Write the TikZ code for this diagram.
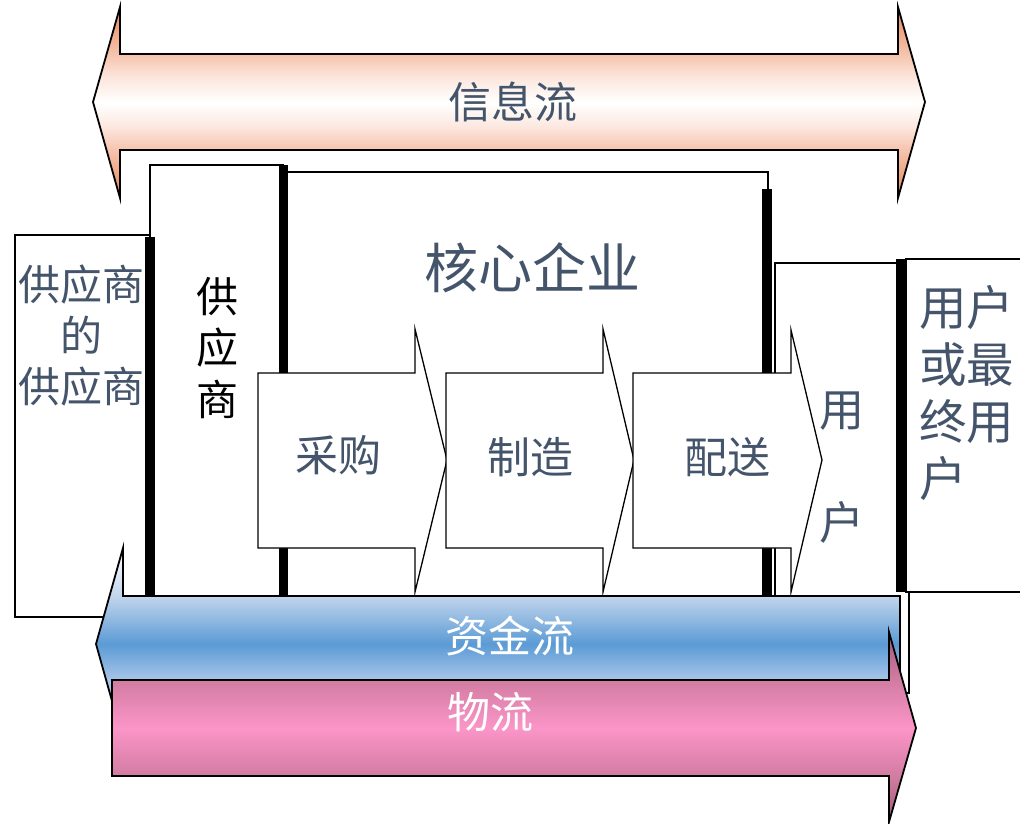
\documentclass[tikz,border=0pt]{standalone}
\usepackage{fontspec}
\newfontfamily\cjk{Noto Sans CJK SC}
\definecolor{txt}{HTML}{44546A}
\definecolor{o1}{HTML}{E8865C}
\definecolor{o2}{HTML}{F6C4AE}
\definecolor{o3}{HTML}{FCE9E1}
\definecolor{b0}{HTML}{E0EAF6}
\definecolor{b1}{HTML}{A8C5E8}
\definecolor{b2}{HTML}{5B9BD5}
\definecolor{b3}{HTML}{C2D5EC}
\definecolor{p1}{HTML}{A05A7A}
\definecolor{p2}{HTML}{D27CA2}
\definecolor{p3}{HTML}{FB95C8}
\pgfdeclareverticalshading{orangeflow}{100bp}{color(0bp)=(o1); color(25bp)=(o1); color(37.6bp)=(o2); color(44bp)=(o3); color(50bp)=(white); color(56bp)=(o3); color(62.6bp)=(o2); color(75bp)=(o1); color(100bp)=(o1)}
\pgfdeclareverticalshading{blueflow}{100bp}{color(0bp)=(b0); color(25bp)=(b0); color(40.6bp)=(b1); color(50bp)=(b2); color(62.5bp)=(b3); color(75bp)=(white); color(100bp)=(white)}
\pgfdeclareverticalshading{pinkflow}{100bp}{color(0bp)=(p1); color(25bp)=(p1); color(37.1bp)=(p2); color(49.7bp)=(p3); color(62.4bp)=(p2); color(75bp)=(p1); color(100bp)=(p1)}
\begin{document}
\begin{tikzpicture}[x=1pt,y=-1pt,
  box/.style={draw=black, line width=1.3pt, fill=white},
  chev/.style={draw=black, line width=1.3pt, fill=white, line join=miter},
  flowarrow/.style={draw=black, line width=1.8pt, line join=miter},
  lbl/.style={inner sep=0pt, text=txt, align=center},
]
\useasboundingbox (0,0) rectangle (1020,823);

% information flow (double arrow)
\path[flowarrow, shading=orangeflow]
  (93,102) -- (120,7) -- (120,54) -- (898,54) -- (898,7) -- (925,102)
  -- (898,198) -- (898,150) -- (120,150) -- (120,198) -- cycle;

% boxes
\draw[box] (15,235) rectangle (150,617);
\draw[box] (150,165) rectangle (283,597);
\draw[line width=1.3pt] (288,172) -- (768,172) -- (768,190);
\draw[box] (775,263) rectangle (909,693);
\draw[box] (906,259) rectangle (1025,592);

% thick bars
\fill (145,237) rectangle (155,597);
\fill (279,165) rectangle (288,597);
\fill (762,189) rectangle (772,597);
\fill (896,259) rectangle (906,592);

% process chevrons
\path[chev] (258,373) -- (415,373) -- (415,329) -- (447,460) -- (415,592) -- (415,548) -- (258,548) -- cycle;
\path[chev] (446,373) -- (603,373) -- (603,329) -- (634,460) -- (603,592) -- (603,548) -- (446,548) -- cycle;
\path[chev] (633,373) -- (791,373) -- (791,330) -- (822,460) -- (791,592) -- (791,548) -- (633,548) -- cycle;

% capital flow (leftward)
\path[flowarrow, shading=blueflow]
  (96,644) -- (123,548) -- (123,596) -- (900,596) -- (900,680) -- (123,680) -- (123,740) -- cycle;

% material flow (rightward)
\path[flowarrow, shading=pinkflow]
  (112,680) -- (889,680) -- (889,632) -- (916,728) -- (889,822) -- (889,776) -- (112,776) -- cycle;

% labels
\node[lbl, font=\cjk\fontsize{43}{51}\selectfont] (info) at (513,102) {信息流};
\node[lbl, font=\cjk\fontsize{54}{60}\selectfont] (core) at (532,268) {核心企业};
\node[lbl, font=\cjk\fontsize{42}{51}\selectfont] (ss) at (82,336) {供应商\\的\\供应商};
\node[lbl, text=black, font=\cjk\fontsize{42}{51.5}\selectfont] (sup) at (217,348) {供\\应\\商};
\node[lbl, font=\cjk\fontsize{43}{51}\selectfont] (buy) at (338,455) {采购};
\node[lbl, font=\cjk\fontsize{43}{51}\selectfont] (make) at (530,457) {制造};
\node[lbl, font=\cjk\fontsize{43}{51}\selectfont] (ship) at (727,457) {配送};
\node[lbl, font=\cjk\fontsize{45}{113}\selectfont] (user) at (842,468) {用\\户};
\node[lbl, align=left, anchor=west, font=\cjk\fontsize{47.5}{57}\selectfont] (end) at (919,393) {用户\\或最\\终用\\户};
\node[lbl, text=white, font=\cjk\fontsize{43}{51}\selectfont] (money) at (510,636) {资金流};
\node[lbl, text=white, font=\cjk\fontsize{43}{51}\selectfont] (goods) at (490,712) {物流};
\end{tikzpicture}
\end{document}
